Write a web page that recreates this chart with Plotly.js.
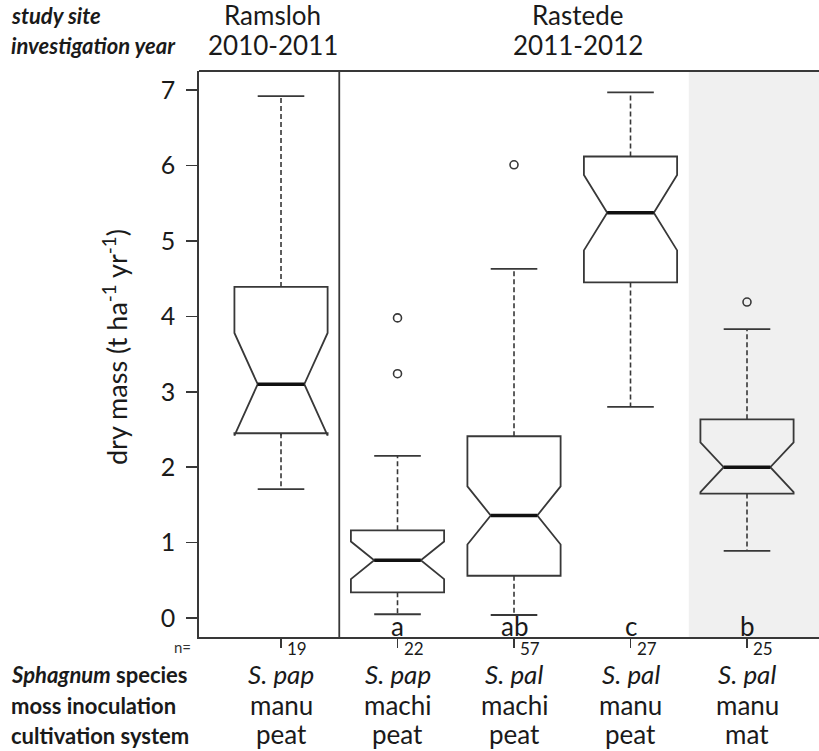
<!DOCTYPE html>
<html>
<head>
<meta charset="utf-8">
<script src="https://cdn.plot.ly/plotly-3.0.1.min.js"></script>
<style>html,body{margin:0;padding:0;background:#fff;}#chart{width:819px;height:751px;}</style>
</head>
<body>
<div id="chart"></div>
<script>
// ---- data ----
var positions = [1, 2, 3, 4, 5];
var species = ["S. pap", "S. pap", "S. pal", "S. pal", "S. pal"];
var inoculation = ["manu", "machi", "machi", "manu", "manu"];
var cultivation = ["peat", "peat", "peat", "peat", "mat"];
var nCounts = ["19", "22", "57", "27", "25"];
var letters = ["", "a", "ab", "c", "b"];
var lowerWhisker = [1.71, 0.05, 0.04, 2.80, 0.89];
var q1 = [2.45, 0.34, 0.56, 4.45, 1.65];
var median = [3.10, 0.765, 1.36, 5.375, 2.00];
var q3 = [4.39, 1.163, 2.41, 6.12, 2.635];
var upperWhisker = [6.92, 2.15, 4.63, 6.97, 3.83];
var notchSpan = [0.68, 0.25, 0.385, 0.50, 0.33];
var outliers = [[], [3.98, 3.24], [6.01], [], [4.19]];
var siteLabels = ["Ramsloh", "Rastede"];
var yearLabels = ["2010-2011", "2011-2012"];
var siteCenters = [0.93, 3.55];

// ---- styles ----
var FONT = "Lato, 'Open Sans', sans-serif";
var LINE = "#383838";
var TXT = "#1a1a1a";
var halfCap = 0.2, halfNotch = 0.2;

var traces = [];
// notched boxes
traces.push({
  type: "box",
  x: positions,
  q1: q1, median: median, q3: q3,
  lowerfence: q1, upperfence: q3,
  notchspan: notchSpan,
  notched: true, notchwidth: 0.25,
  width: 0.8, whiskerwidth: 0,
  boxpoints: false,
  fillcolor: "rgba(0,0,0,0)",
  line: {color: LINE, width: 1.8},
  hoverinfo: "skip",
  showlegend: false
});
// dashed whiskers, caps, thick medians
var wx = [], wy = [], cx = [], cy = [], mx = [], my = [];
positions.forEach(function (p, i) {
  wx.push(p, p, null, p, p, null);
  wy.push(q3[i], upperWhisker[i], null, q1[i], lowerWhisker[i], null);
  cx.push(p - halfCap, p + halfCap, null, p - halfCap, p + halfCap, null);
  cy.push(upperWhisker[i], upperWhisker[i], null, lowerWhisker[i], lowerWhisker[i], null);
  mx.push(p - halfNotch, p + halfNotch, null);
  my.push(median[i], median[i], null);
});
traces.push({type: "scatter", mode: "lines", x: wx, y: wy, line: {color: LINE, width: 1.6, dash: "5px,3px"}, hoverinfo: "skip", showlegend: false});
traces.push({type: "scatter", mode: "lines", x: cx, y: cy, line: {color: LINE, width: 1.8}, hoverinfo: "skip", showlegend: false});
traces.push({type: "scatter", mode: "lines", x: mx, y: my, line: {color: "#111", width: 3.5}, hoverinfo: "skip", showlegend: false});
// outliers
var ox = [], oy = [];
outliers.forEach(function (arr, i) { arr.forEach(function (v) { ox.push(positions[i]); oy.push(v); }); });
traces.push({type: "scatter", mode: "markers", x: ox, y: oy, marker: {symbol: "circle-open", size: 8, color: LINE, line: {width: 1.6, color: LINE}}, hoverinfo: "skip", showlegend: false});

var annotations = [];
function pxY(ypx) { return {yref: "paper", y: 0, yshift: 637 - ypx}; }
function addAnn(o) { annotations.push(Object.assign({showarrow: false, font: {family: FONT, size: 26, color: TXT}}, o)); }

positions.forEach(function (p, i) {
  if (letters[i]) addAnn({x: p, xref: "x", text: letters[i], yanchor: "bottom", yref: "paper", y: 0, yshift: -7});
  addAnn(Object.assign({x: p, xref: "x", xanchor: "left", xshift: 4, text: nCounts[i], yanchor: "middle", font: {family: FONT, size: 17, color: TXT}}, pxY(648)));
  addAnn(Object.assign({x: p, xref: "x", text: "<i>" + species[i] + "</i>", yanchor: "middle"}, pxY(674)));
  addAnn(Object.assign({x: p, xref: "x", text: inoculation[i], yanchor: "middle"}, pxY(705)));
  addAnn(Object.assign({x: p, xref: "x", text: cultivation[i], yanchor: "middle"}, pxY(734)));
});
// row labels
function leftLab(txt, ypx) {
  addAnn(Object.assign({xref: "paper", x: 0, xshift: -190, xanchor: "left", text: txt, yanchor: "middle", font: {family: FONT, size: 22, color: TXT}}, pxY(ypx)));
}
leftLab("<b><i>Sphagnum</i> species</b>", 674);
leftLab("<b>moss inoculation</b>", 705);
leftLab("<b>cultivation system</b>", 735);
leftLab("<b><i>study site</i></b>", 15);
leftLab("<b><i>investigation year</i></b>", 45);
addAnn(Object.assign({xref: "paper", x: 0, xshift: -6, xanchor: "right", text: "n=", yanchor: "middle", font: {family: FONT, size: 15, color: "#333"}}, pxY(647)));
// site / year headers
siteLabels.forEach(function (s, i) {
  addAnn(Object.assign({x: siteCenters[i], xref: "x", text: s, yanchor: "middle"}, pxY(15)));
  addAnn(Object.assign({x: siteCenters[i], xref: "x", text: yearLabels[i], yanchor: "middle"}, pxY(45)));
});
// y-axis title
addAnn({xref: "paper", x: 0, xshift: -84, xanchor: "center", yref: "paper", y: 0.5, yanchor: "middle", yshift: 7, textangle: -90,
  text: "dry mass (t ha<sup>-1</sup> yr<sup>-1</sup>)", font: {family: FONT, size: 27, color: TXT}});

var layout = {
  width: 819, height: 751,
  margin: {l: 199, r: 0, t: 71, b: 114, pad: 0},
  paper_bgcolor: "#fff", plot_bgcolor: "#fff",
  showlegend: false,
  xaxis: {range: [0.296, 5.618], tickvals: positions, showticklabels: false, ticks: "outside", ticklen: 9, tickwidth: 1.5, tickcolor: LINE,
    showline: true, linecolor: LINE, linewidth: 1.8, showgrid: false, zeroline: false, fixedrange: true},
  yaxis: {range: [-0.252, 7.254], tickvals: [0, 1, 2, 3, 4, 5, 6, 7], ticks: "outside", ticklen: 11, tickwidth: 1.5, tickcolor: LINE,
    ticklabelstandoff: 6, tickfont: {family: FONT, size: 25, color: TXT},
    showline: true, linecolor: LINE, linewidth: 1.8, showgrid: false, zeroline: false, fixedrange: true},
  shapes: [
    {type: "rect", xref: "x", yref: "paper", x0: 4.5, x1: 5.618, y0: 0, y1: 1, fillcolor: "#f0f0f0", line: {width: 0}, layer: "below"},
    {type: "line", xref: "x", yref: "paper", x0: 1.5, x1: 1.5, y0: 0, y1: 1, line: {color: LINE, width: 1.8}},
    {type: "line", xref: "paper", yref: "paper", x0: 0, x1: 1, y0: 1, y1: 1, line: {color: LINE, width: 1.8}}
  ],
  annotations: annotations
};

Plotly.newPlot("chart", traces, layout, {staticPlot: true, displayModeBar: false});
</script>
</body>
</html>
